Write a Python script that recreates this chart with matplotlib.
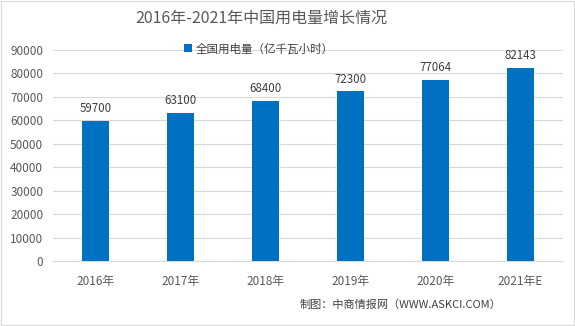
import numpy as np
import matplotlib.pyplot as plt

plt.rcParams['font.family'] = ['Noto Sans CJK SC', 'DejaVu Sans']

years = ['2016年', '2017年', '2018年', '2019年', '2020年', '2021年E']
usage = [59700, 63100, 68400, 72300, 77064, 82143]

fig = plt.figure(figsize=(5.75, 3.26), dpi=100)
ax = fig.add_axes([0.092, 0.199, 0.887, 0.648])

x = np.arange(len(years))
ax.bar(x, usage, width=0.31, color='#0070c0', label='全国用电量（亿千瓦小时）', zorder=3)

for xi, v in zip(x, usage):
    ax.text(xi, v + 2500, str(v), ha='center', va='bottom', fontsize=8.3, color='#404040')

ax.set_xlim(-0.5, len(years) - 0.5)
ax.set_ylim(0, 90000)
ax.set_yticks(range(0, 90001, 10000))
ax.set_xticks(x)
ax.set_xticklabels(years)
ax.tick_params(axis='both', length=0, labelsize=8.5, colors='#595959')
ax.tick_params(axis='x', pad=10)
ax.tick_params(axis='y', pad=7)
ax.grid(axis='y', color='#d9d9d9', linewidth=0.8, zorder=0)
for s in ['top', 'right', 'left']:
    ax.spines[s].set_visible(False)
ax.spines['bottom'].set_color('#d9d9d9')

fig.text(0.454, 0.945, '2016年-2021年中国用电量增长情况', ha='center', va='center',
         fontsize=11.5, color='#595959')
fig.legend(loc='center', bbox_to_anchor=(0.45, 0.85), frameon=False, fontsize=8.3,
           handlelength=0.7, handleheight=0.7, handletextpad=0.3, labelcolor='#404040')
fig.text(0.872, 0.065, '制图：中商情报网（WWW.ASKCI.COM）', ha='right', va='center',
         fontsize=8, color='#404040')

fig.patches.append(plt.Rectangle((0.001, 0.002), 0.997, 0.995, transform=fig.transFigure,
                                 fill=False, edgecolor='#d9d9d9', linewidth=0.8))

fig.savefig('out.png', dpi=100)
